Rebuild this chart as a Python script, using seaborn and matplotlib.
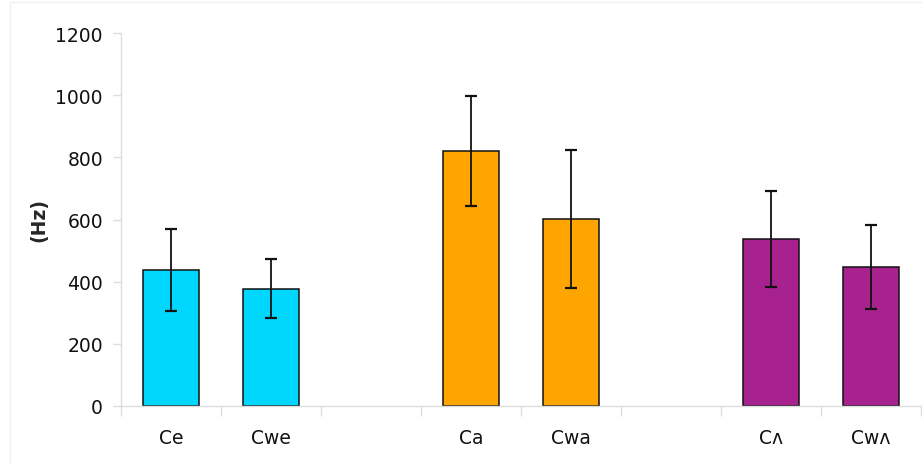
import pandas as pd
import matplotlib.pyplot as plt
import seaborn as sns
from matplotlib.patches import Rectangle

# data
categories = ["Ce", "Cwe", "", "Ca", "Cwa", " ", "Cʌ", "Cwʌ"]
bar_labels = ["Ce", "Cwe", "Ca", "Cwa", "Cʌ", "Cwʌ"]
mean_hz = [438, 378, 820, 603, 537, 447]
err_hz = [132, 96, 178, 222, 154, 135]
colors = {"Ce": "#00D7FF", "Cwe": "#00D7FF",
          "Ca": "#FFA500", "Cwa": "#FFA500",
          "Cʌ": "#A8228F", "Cwʌ": "#A8228F"}

df = pd.DataFrame({"cond": bar_labels, "hz": mean_hz, "err": err_hz})

sns.set_style("white")
plt.rcParams['font.family'] = ['DejaVu Sans']

fig = plt.figure(figsize=(9.22, 4.64), dpi=100)
ax = fig.add_axes([121 / 922, 57 / 464, 800 / 922, 373 / 464])

sns.barplot(data=df, x="cond", y="hz", hue="cond", order=categories,
            palette=colors, saturation=1, width=0.56, edgecolor="#111111",
            linewidth=1.1, errorbar=None, legend=False, ax=ax)

# error bars at the categorical positions of each bar
pos = [categories.index(c) for c in df["cond"]]
ax.errorbar(pos, df["hz"], yerr=df["err"], fmt="none", ecolor="#111111",
            elinewidth=1.3, capsize=4, capthick=1.6)

ax.set_xlim(-0.5, len(categories) - 0.5)
ax.set_ylim(0, 1200)
ax.set_yticks(range(0, 1201, 200))
ax.set_xlabel("")
ax.set_ylabel("(Hz)", fontsize=13.5, fontweight="bold", labelpad=5)

# category boundaries carry the tick marks, labels sit at the centres
ax.set_xticks([i - 0.5 for i in range(len(categories) + 1)], minor=True)
ax.tick_params(axis="x", which="major", length=0, pad=16, labelsize=13.5,
               colors="#111111")
ax.tick_params(axis="x", which="minor", length=7, width=1, color="#dddddd",
               direction="out", bottom=True)
ax.tick_params(axis="y", length=6, width=1, color="#dddddd", direction="out",
               left=True, labelsize=13.5, labelcolor="#111111", pad=7)

for side in ["top", "right"]:
    ax.spines[side].set_visible(False)
for side in ["left", "bottom"]:
    ax.spines[side].set_color("#dddddd")
    ax.spines[side].set_linewidth(1)

# faint frame around the whole picture
fig.patches.append(Rectangle((10 / 922, -0.1), 1.2, 1.1 - 3 / 464,
                             transform=fig.transFigure, fill=False,
                             edgecolor="#f0f0f0", linewidth=1))

fig.savefig("out.png", dpi=100)
